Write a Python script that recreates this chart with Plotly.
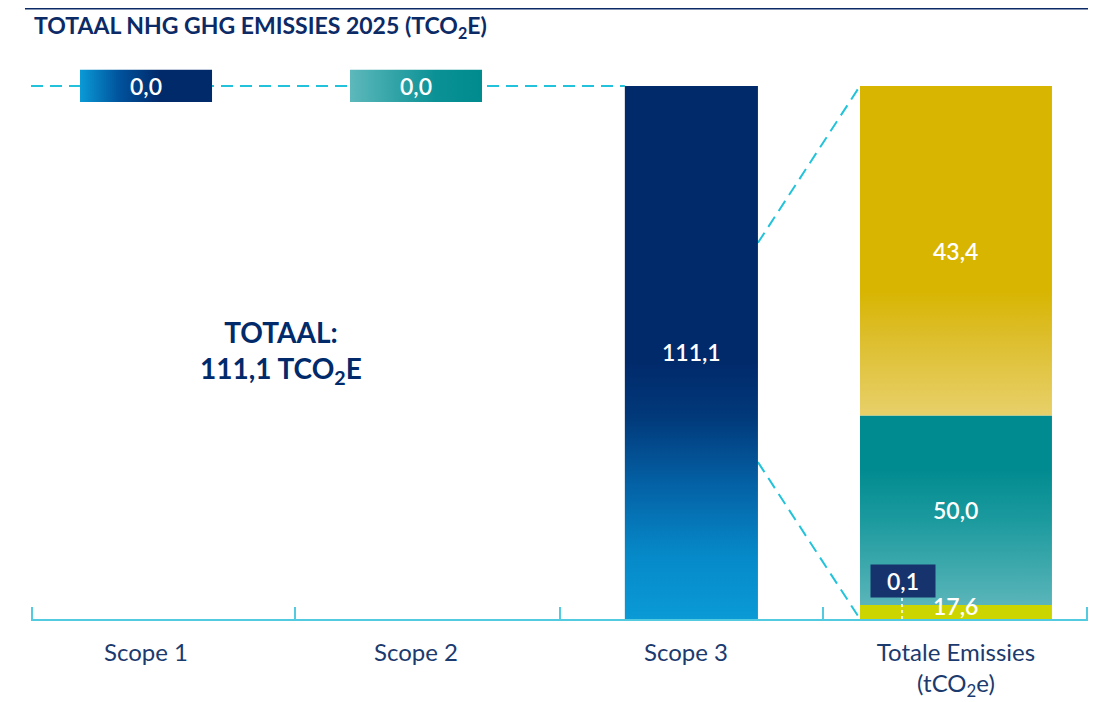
import plotly.graph_objects as go

# ---------------- data ----------------
CATEGORIES = ["Scope 1", "Scope 2", "Scope 3", "Totale Emissies<br>(tCO<sub>2</sub>e)"]
SCOPE_VALUES = [0.0, 0.0, 111.1]
SCOPE_LABELS = ["0,0", "0,0", "111,1"]
TOTAL = 111.1
# stacked segments of the total bar, bottom -> top, heights as drawn in the picture
TOTAL_SEGMENTS = [2.9, 39.5, 68.7]
TOTAL_SEGMENT_LABELS = ["17,6", "50,0", "43,4"]
CALLOUT_LABEL = "0,1"
TOTAL_TEXT = "<b>TOTAAL:<br>111,1 TCO<sub>2</sub>E</b>"
TITLE = "<b>TOTAAL NHG GHG EMISSIES 2025 (TCO<sub>2</sub>E)</b>"
CONNECTOR_LEVELS = [78.4, 32.7]  # where the zoom connectors leave the Scope 3 bar

# ---------------- style ----------------
NAVY = "#012a6b"
TEXT_NAVY = "#1b3a6e"
CYAN = "#22c3da"
AXIS_CYAN = "#52cbe0"
FONT = "Lato"
VAL_SIZE = 23

W_SCOPE3 = 0.493
W_TOTAL = 0.711
W_BOX = 0.489
BOX_H = 6.7
BAR_SHIFT = 0.02  # scope 3 bar sits slightly right of its label
X_RANGE = [-0.426, 3.489]
Y_RANGE = [0, 116.5]
BOUNDARY_TICKS = [-0.424, 0.552, 1.533, 2.507, 3.487]

SCOPE_GRADIENTS = [
    ("horizontal", [[0, "#0a9ad6"], [0.3, "#00529c"], [0.6, NAVY], [1, NAVY]]),
    ("horizontal", [[0, "#5db8bb"], [0.65, "#0a9195"], [1, "#008b8f"]]),
    ("vertical", [[0, "#0a9ad6"], [0.12, "#0689c8"], [0.25, "#0462a6"], [0.38, "#01397a"], [0.48, NAVY], [1, NAVY]]),
]
SEGMENT_GRADIENTS = [
    [[0, "#ccd500"], [1, "#ccd500"]],
    [[0, "#5ab5b9"], [0.45, "#1b9a9e"], [0.72, "#008b90"], [1, "#008b90"]],
    [[0, "#e8d06a"], [0.25, "#dcbd28"], [0.38, "#d8b500"], [1, "#d8b500"]],
]


def rect(x0, x1, y0, y1):
    return [x0, x1, x1, x0, x0], [y0, y0, y1, y1, y0]


def grad_rect(x0, x1, y0, y1, orient, scale):
    xs, ys = rect(x0, x1, y0, y1)
    if orient == "vertical":
        start, stop = y0, y1
    else:
        start, stop = x0, x1
    return go.Scatter(
        x=xs, y=ys, mode="lines", line=dict(width=0), fill="toself",
        fillgradient=dict(type=orient, colorscale=scale, start=start, stop=stop),
        hoverinfo="skip", showlegend=False,
    )


def val_font():
    return dict(family=FONT, size=VAL_SIZE, color="white", weight=600)


fig = go.Figure()
annotations = []

scope3_x = 2 + BAR_SHIFT
total_x = 3
scope3_left = scope3_x - W_SCOPE3 / 2
scope3_right = scope3_x + W_SCOPE3 / 2
total_left = total_x - W_TOTAL / 2

# horizontal dashed level line
fig.add_trace(go.Scatter(x=[X_RANGE[0], scope3_left], y=[TOTAL, TOTAL], mode="lines",
                         line=dict(color=CYAN, width=2, dash="12px,7px"),
                         hoverinfo="skip", showlegend=False))
# zoom connectors
for lvl, tgt in zip(CONNECTOR_LEVELS, [TOTAL, 0]):
    fig.add_trace(go.Scatter(x=[scope3_right, total_left], y=[lvl, tgt], mode="lines",
                             line=dict(color=CYAN, width=2, dash="12px,7px"),
                             hoverinfo="skip", showlegend=False))

# scope bars / boxes
for i, (v, lab, (orient, scale)) in enumerate(zip(SCOPE_VALUES, SCOPE_LABELS, SCOPE_GRADIENTS)):
    if v == 0:
        fig.add_trace(grad_rect(i - W_BOX / 2, i + W_BOX / 2, TOTAL - BOX_H / 2, TOTAL + BOX_H / 2, orient, scale))
        annotations.append(dict(x=i, y=TOTAL, text=lab, showarrow=False, font=val_font()))
    else:
        xc = i + BAR_SHIFT
        fig.add_trace(grad_rect(xc - W_SCOPE3 / 2, xc + W_SCOPE3 / 2, 0, v, orient, scale))
        annotations.append(dict(x=xc, y=v / 2, text=lab, showarrow=False, font=val_font()))

# stacked total bar
base = 0
for j, (h, lab, scale) in enumerate(zip(TOTAL_SEGMENTS, TOTAL_SEGMENT_LABELS, SEGMENT_GRADIENTS)):
    fig.add_trace(grad_rect(total_x - W_TOTAL / 2, total_x + W_TOTAL / 2, base, base + h, "vertical", scale))
    annotations.append(dict(x=total_x, y=base + h / 2, text=lab, showarrow=False,
                            yshift=6 if j == 0 else 0, font=val_font()))
    base += h

# callout 0,1
annotations.append(dict(x=total_left, y=0, xanchor="left", yanchor="bottom", xshift=10, yshift=21,
                        text=CALLOUT_LABEL, showarrow=False, bgcolor="#17336d", width=64, height=32,
                        borderpad=0, font=val_font()))

# totaal text
annotations.append(dict(x=0.5, y=TOTAL / 2, text=TOTAL_TEXT, showarrow=False,
                        font=dict(family=FONT, size=28, color=NAVY)))

# title
annotations.append(dict(xref="paper", yref="paper", x=0.001, y=1.06, xanchor="left", yanchor="middle",
                        text=TITLE, showarrow=False, font=dict(family=FONT, size=23, color="#0b2a66")))

shapes = [
    dict(type="line", xref="paper", yref="paper", x0=-0.0057, x1=1.0076, y0=1.0917, y1=1.0917,
         line=dict(color="#0b2a66", width=1.5), layer="above"),
    dict(type="line", xref="x", yref="y", xsizemode="pixel", xanchor=total_left, x0=42, x1=42,
         ysizemode="pixel", yanchor=0, y0=0, y1=21,
         line=dict(color="white", width=1.5, dash="3px,3px"), layer="above"),
]

fig.update_layout(
    width=1088, height=694,
    margin=dict(l=23, r=8, t=52, b=83, autoexpand=False),
    paper_bgcolor="white", plot_bgcolor="white",
    annotations=annotations, shapes=shapes,
    showlegend=False,
    xaxis=dict(range=X_RANGE, tickmode="array", tickvals=[0, 1, 2, 3], ticktext=CATEGORIES,
               automargin=False,
               ticks="", showgrid=False, zeroline=False, showline=True, linecolor=AXIS_CYAN, linewidth=1.5,
               tickfont=dict(family=FONT, size=24, color=TEXT_NAVY), ticklabelstandoff=11,
               minor=dict(tickmode="array", tickvals=BOUNDARY_TICKS, ticks="inside", ticklen=12,
                          tickcolor=AXIS_CYAN, tickwidth=1.5, showgrid=False)),
    yaxis=dict(range=Y_RANGE, visible=False, showgrid=False, zeroline=False, automargin=False),
)

fig.write_html("out.html")
